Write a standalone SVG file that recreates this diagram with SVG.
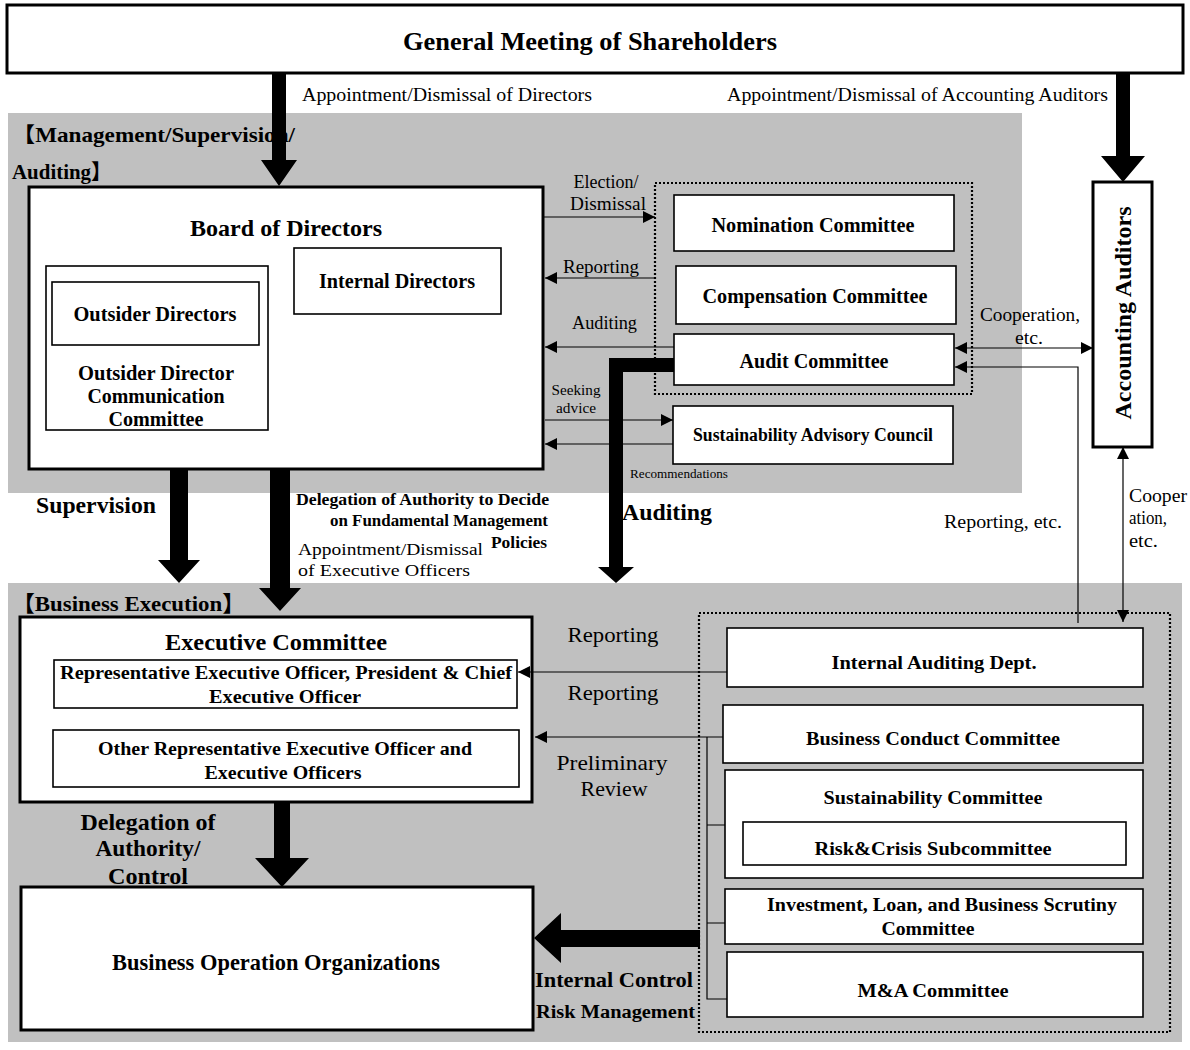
<svg xmlns="http://www.w3.org/2000/svg" width="1190" height="1050" viewBox="0 0 1190 1050">
<style>
text{font-family:"Liberation Serif","Times New Roman","Noto Sans CJK JP",serif;fill:#000}
.b{font-weight:bold}
.m{text-anchor:middle}
.e{text-anchor:end}
.bx{fill:#fff;stroke:#000;stroke-width:1.6}
.bk{fill:#fff;stroke:#000;stroke-width:3}
.gr{fill:#c0c0c0}
.dt{fill:none;stroke:#000;stroke-width:2.2;stroke-dasharray:2 2}
.ln{fill:none;stroke:#000;stroke-width:1.2}
.ar{marker-end:url(#ah)}
.ar2{marker-start:url(#ah);marker-end:url(#ah)}
.th{fill:#000}
</style>
<defs>
<marker id="ah" viewBox="0 0 12 12" refX="12" refY="6" markerWidth="12" markerHeight="12" markerUnits="userSpaceOnUse" orient="auto-start-reverse"><path d="M0,0 L12,6 L0,12 z" fill="#000"/></marker>
</defs>
<rect width="1190" height="1050" fill="#fff"/>
<g id="regions">
<rect class="gr" x="8" y="113" width="1014" height="380"/>
<rect class="gr" x="8" y="583" width="1174" height="459"/>
<rect class="dt" x="655" y="183" width="317" height="211"/>
<rect class="dt" x="699" y="613" width="471" height="419"/>
<text class="b" x="12" y="142" font-size="21" textLength="283" lengthAdjust="spacingAndGlyphs">【Management/Supervision/</text>
<text class="b" x="12" y="179" font-size="21" textLength="100" lengthAdjust="spacingAndGlyphs">Auditing】</text>
<text class="b" x="12" y="611" font-size="22" textLength="233" lengthAdjust="spacingAndGlyphs">【Business Execution】</text>
</g>
<g id="gms">
<rect class="bk" x="7" y="5" width="1176" height="68"/>
<text class="b m" x="590" y="50" font-size="26" textLength="374" lengthAdjust="spacingAndGlyphs">General Meeting of Shareholders</text>
</g>
<g id="board">
<rect class="bk" x="29" y="187" width="514" height="282"/>
<text class="b m" x="286" y="236" font-size="24" textLength="192" lengthAdjust="spacingAndGlyphs">Board of Directors</text>
</g>
<g id="odcc">
<rect class="bx" x="46" y="266" width="222" height="164"/>
<text class="b m" x="156" y="380" font-size="20" textLength="156" lengthAdjust="spacingAndGlyphs">Outsider Director</text>
<text class="b m" x="156" y="403" font-size="20" textLength="137" lengthAdjust="spacingAndGlyphs">Communication</text>
<text class="b m" x="156" y="426" font-size="20" textLength="95" lengthAdjust="spacingAndGlyphs">Committee</text>
</g>
<g id="outsider">
<rect class="bx" x="52" y="282" width="207" height="63"/>
<text class="b m" x="155" y="321" font-size="20" textLength="163" lengthAdjust="spacingAndGlyphs">Outsider Directors</text>
</g>
<g id="internal">
<rect class="bx" x="294" y="248" width="207" height="66"/>
<text class="b m" x="397" y="288" font-size="20" textLength="156" lengthAdjust="spacingAndGlyphs">Internal Directors</text>
</g>
<g id="nomination">
<rect class="bx" x="674" y="195" width="280" height="56"/>
<text class="b m" x="813" y="232" font-size="20" textLength="203" lengthAdjust="spacingAndGlyphs">Nomination Committee</text>
</g>
<g id="compensation">
<rect class="bx" x="676" y="266" width="280" height="58"/>
<text class="b m" x="815" y="303" font-size="20" textLength="225" lengthAdjust="spacingAndGlyphs">Compensation Committee</text>
</g>
<g id="audit">
<rect class="bx" x="674" y="334" width="280" height="51"/>
<text class="b m" x="814" y="368" font-size="20" textLength="149" lengthAdjust="spacingAndGlyphs">Audit Committee</text>
</g>
<g id="sac">
<rect class="bx" x="673" y="406" width="280" height="58"/>
<text class="b m" x="813" y="441" font-size="18" textLength="240" lengthAdjust="spacingAndGlyphs">Sustainability Advisory Council</text>
</g>
<g id="accounting">
<rect class="bk" x="1093" y="182" width="59" height="265"/>
<text class="b m" x="1131" y="313" font-size="24" textLength="213" lengthAdjust="spacingAndGlyphs" transform="rotate(-90 1131 313)">Accounting Auditors</text>
</g>
<g id="exec">
<rect class="bk" x="20" y="617" width="512" height="185"/>
<text class="b m" x="276" y="650" font-size="24" textLength="222" lengthAdjust="spacingAndGlyphs">Executive Committee</text>
</g>
<g id="rep">
<rect class="bx" x="54" y="660" width="463" height="48"/>
<text class="b m" x="286" y="679" font-size="19" textLength="452" lengthAdjust="spacingAndGlyphs">Representative Executive Officer, President &amp; Chief</text>
<text class="b m" x="285" y="703" font-size="19" textLength="152" lengthAdjust="spacingAndGlyphs">Executive Officer</text>
</g>
<g id="other">
<rect class="bx" x="53" y="730" width="466" height="57"/>
<text class="b m" x="285" y="755" font-size="19" textLength="374" lengthAdjust="spacingAndGlyphs">Other Representative Executive Officer and</text>
<text class="b m" x="283" y="779" font-size="19" textLength="157" lengthAdjust="spacingAndGlyphs">Executive Officers</text>
</g>
<g id="boo">
<rect class="bk" x="21" y="887" width="512" height="143"/>
<text class="b m" x="276" y="970" font-size="23" textLength="328" lengthAdjust="spacingAndGlyphs">Business Operation Organizations</text>
</g>
<g id="iad">
<rect class="bx" x="727" y="628" width="416" height="59"/>
<text class="b m" x="934" y="669" font-size="19" textLength="205" lengthAdjust="spacingAndGlyphs">Internal Auditing Dept.</text>
</g>
<g id="bcc">
<rect class="bx" x="723" y="705" width="420" height="58"/>
<text class="b m" x="933" y="745" font-size="19" textLength="254" lengthAdjust="spacingAndGlyphs">Business Conduct Committee</text>
</g>
<g id="sc">
<rect class="bx" x="725" y="770" width="418" height="108"/>
<text class="b m" x="933" y="804" font-size="19" textLength="219" lengthAdjust="spacingAndGlyphs">Sustainability Committee</text>
</g>
<g id="rcs">
<rect class="bx" x="743" y="822" width="383" height="43"/>
<text class="b m" x="933" y="855" font-size="19" textLength="237" lengthAdjust="spacingAndGlyphs">Risk&amp;Crisis Subcommittee</text>
</g>
<g id="ilb">
<rect class="bx" x="725" y="889" width="418" height="55"/>
<text class="b m" x="942" y="911" font-size="19" textLength="350" lengthAdjust="spacingAndGlyphs">Investment, Loan, and Business Scrutiny</text>
<text class="b m" x="928" y="935" font-size="19" textLength="93" lengthAdjust="spacingAndGlyphs">Committee</text>
</g>
<g id="ma">
<rect class="bx" x="727" y="952" width="416" height="65"/>
<text class="b m" x="933" y="997" font-size="19" textLength="151" lengthAdjust="spacingAndGlyphs">M&amp;A Committee</text>
</g>
<g id="connectors">
<path class="ln ar" d="M543,217 H655"/>
<path class="ln ar" d="M655,278 H545"/>
<path class="ln ar" d="M674,347 H545"/>
<path class="ln ar" d="M545,420 H673"/>
<path class="ln ar" d="M673,444 H545"/>
<path class="ln ar2" d="M955,348 H1093"/>
<path class="ln ar" d="M1078,623 V367 H955"/>
<path class="ln ar2" d="M1123,447 V622"/>
<path class="ln ar" d="M727,672 H518"/>
<path class="ln ar" d="M723,737 H535"/>
<path class="ln" d="M707,737 V999 H727 M707,825 H725 M707,923 H725"/>
<polygon class="th" points="272,73 286,73 286,160 297,160 279,186 261,160 272,160"/>
<polygon class="th" points="1116,73 1130,73 1130,156 1145,156 1123,182 1101,156 1116,156"/>
<polygon class="th" points="170,469 188,469 188,560 200,560 179,583 158,560 170,560"/>
<polygon class="th" points="270,469 290,469 290,588 301,588 280,611 259,588 270,588"/>
<polyline points="674,365 616,365 616,568" fill="none" stroke="#000" stroke-width="14" stroke-linejoin="miter"/>
<polygon class="th" points="598,567 634,567 616,583"/>
<polygon class="th" points="274,802 290,802 290,858 309,858 282,887 255,858 274,858"/>
<polygon class="th" points="700,930 700,947 561,947 561,963 534,938 561,913 561,930"/>
</g>
<g id="labels">
<text x="302" y="101" font-size="19" textLength="290" lengthAdjust="spacingAndGlyphs">Appointment/Dismissal  of Directors</text>
<text x="727" y="101" font-size="19" textLength="381" lengthAdjust="spacingAndGlyphs">Appointment/Dismissal  of Accounting Auditors</text>
<text class="m" x="606" y="188" font-size="19" textLength="65" lengthAdjust="spacingAndGlyphs">Election/</text>
<text class="m" x="608" y="210" font-size="19" textLength="76" lengthAdjust="spacingAndGlyphs">Dismissal</text>
<text x="563" y="273" font-size="19" textLength="76" lengthAdjust="spacingAndGlyphs">Reporting</text>
<text x="572" y="329" font-size="19" textLength="65" lengthAdjust="spacingAndGlyphs">Auditing</text>
<text class="m" x="576" y="395" font-size="15" textLength="49" lengthAdjust="spacingAndGlyphs">Seeking</text>
<text class="m" x="576" y="413" font-size="15" textLength="40" lengthAdjust="spacingAndGlyphs">advice</text>
<text x="630" y="478" font-size="13" textLength="98" lengthAdjust="spacingAndGlyphs">Recommendations</text>
<text x="980" y="321" font-size="19" textLength="100" lengthAdjust="spacingAndGlyphs">Cooperation,</text>
<text x="1015" y="344" font-size="19" textLength="28" lengthAdjust="spacingAndGlyphs">etc.</text>
<text x="944" y="528" font-size="19" textLength="118" lengthAdjust="spacingAndGlyphs">Reporting,  etc.</text>
<text x="1129" y="502" font-size="19" textLength="58" lengthAdjust="spacingAndGlyphs">Cooper</text>
<text x="1129" y="524" font-size="19" textLength="38" lengthAdjust="spacingAndGlyphs">ation,</text>
<text x="1129" y="547" font-size="19" textLength="29" lengthAdjust="spacingAndGlyphs">etc.</text>
<text class="b" x="36" y="513" font-size="24" textLength="120" lengthAdjust="spacingAndGlyphs">Supervision</text>
<text class="b e" x="549" y="505" font-size="17" textLength="253" lengthAdjust="spacingAndGlyphs">Delegation of Authority to Decide</text>
<text class="b e" x="548" y="526" font-size="17" textLength="218" lengthAdjust="spacingAndGlyphs">on Fundamental  Management</text>
<text class="b e" x="547" y="548" font-size="17" textLength="56" lengthAdjust="spacingAndGlyphs">Policies</text>
<text x="298" y="555" font-size="17.5" textLength="185" lengthAdjust="spacingAndGlyphs">Appointment/Dismissal</text>
<text x="298" y="576" font-size="17.5" textLength="172" lengthAdjust="spacingAndGlyphs">of Executive  Officers</text>
<text class="b" x="622" y="520" font-size="24" textLength="90" lengthAdjust="spacingAndGlyphs">Auditing</text>
<text class="m" x="613" y="642" font-size="22" textLength="91" lengthAdjust="spacingAndGlyphs">Reporting</text>
<text class="m" x="613" y="700" font-size="22" textLength="91" lengthAdjust="spacingAndGlyphs">Reporting</text>
<text class="m" x="612" y="770" font-size="22" textLength="111" lengthAdjust="spacingAndGlyphs">Preliminary</text>
<text class="m" x="614" y="796" font-size="22" textLength="67" lengthAdjust="spacingAndGlyphs">Review</text>
<text class="b m" x="148" y="830" font-size="24" textLength="135" lengthAdjust="spacingAndGlyphs">Delegation of</text>
<text class="b m" x="148" y="856" font-size="24" textLength="105" lengthAdjust="spacingAndGlyphs">Authority/</text>
<text class="b m" x="148" y="884" font-size="24" textLength="80" lengthAdjust="spacingAndGlyphs">Control</text>
<text class="b" x="535" y="987" font-size="22" textLength="158" lengthAdjust="spacingAndGlyphs">Internal Control</text>
<text class="b" x="536" y="1018" font-size="18" textLength="159" lengthAdjust="spacingAndGlyphs">Risk Management</text>
</g>
</svg>
